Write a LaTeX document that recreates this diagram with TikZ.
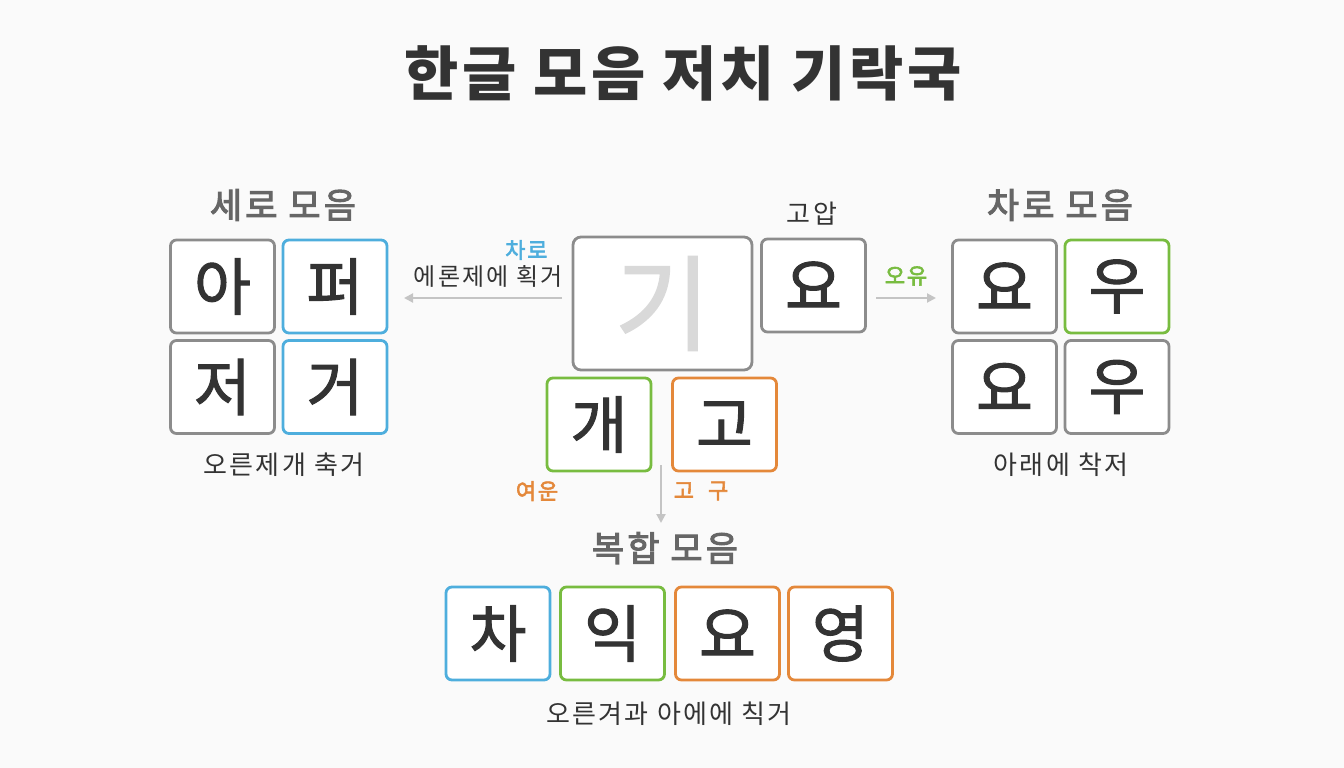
\documentclass[tikz,border=0pt]{standalone}
\usepackage{fontspec}
\setmainfont{Noto Sans CJK KR}
\newfontfamily\krsp[LetterSpace=9]{Noto Sans CJK KR}
\newfontfamily\krmed[FakeBold=1.6]{Noto Sans CJK KR}
\newfontfamily\krhead[FakeBold=3,LetterSpace=9]{Noto Sans CJK KR}
\newfontfamily\krlab[FakeBold=2.6,LetterSpace=8]{Noto Sans CJK KR}
\newfontfamily\krti[LetterSpace=6]{Noto Sans CJK KR}
\usetikzlibrary{arrows.meta}
\definecolor{txt}{HTML}{333333}
\definecolor{head}{HTML}{666666}
\definecolor{bgray}{HTML}{8C8C8C}
\definecolor{bblue}{HTML}{4EAEDD}
\definecolor{bgreen}{HTML}{78BC40}
\definecolor{borange}{HTML}{E4883A}
\definecolor{arr}{HTML}{C4C4C4}
\definecolor{ghost}{HTML}{D9D9D9}
\definecolor{bg}{HTML}{FAFAFA}
\tikzset{
  cell/.style={draw=#1, line width=2.8pt, rounded corners=6pt, fill=white,
    minimum width=104pt, minimum height=93pt, inner sep=0pt,
    font=\krmed\fontsize{62}{64}\selectfont, text=txt},
  heading/.style={font=\krhead\fontsize{35}{37}\selectfont, text=head},
  caption/.style={font=\krsp\fontsize{26}{28}\selectfont, text=txt},
  smalllab/.style={font=\krlab\fontsize{22}{24}\selectfont, text=#1},
  conn/.style={draw=arr, line width=2pt, -{Triangle[length=9pt,width=9pt]}}
}
\begin{document}
\begin{tikzpicture}[x=1pt,y=-1pt]
\fill[bg] (0,0) rectangle (1344,768);
\useasboundingbox (0,0) rectangle (1344,768);
% title
\node[font=\krti\bfseries\fontsize{59}{62}\selectfont, text=txt] (title) at (683,73) {한글 모음 저치 기락국};
% left group
\node[heading] (lh) at (283,205) {세로 모음};
\node[cell=bgray] (l1) at (222.5,286.5) {아};
\node[cell=bblue] (l2) at (335,286.5) {퍼};
\node[cell=bgray] (l3) at (222.5,387) {저};
\node[cell=bblue] (l4) at (335,387) {거};
\node[caption] (lc) at (284,465) {오른제개 축거};
% center
\node[draw=bgray, line width=2.8pt, rounded corners=8pt, fill=white,
  minimum width=179pt, minimum height=133pt, inner sep=0pt,
  font=\krmed\fontsize{104}{104}\selectfont, text=ghost] (gi) at (662.5,303.5) {기};
\node[cell=bgray] (yo) at (813.5,285.5) {요};
\node[font=\krsp\fontsize{26}{28}\selectfont, text=txt] (goap) at (812,214) {고압};
\node[cell=bgreen] (gae) at (599,424.5) {개};
\node[cell=borange] (go) at (724.5,424.5) {고};
% left arrow
\coordinate (la1) at (562,298);
\coordinate (la2) at (404,298);
\draw[conn] (la1) -- (la2);
\node[smalllab=bblue, anchor=east] (charo) at (551,250) {차로};
\node[font=\krsp\fontsize{24}{26}\selectfont, text=txt, anchor=east] (erj) at (566,276) {에론제에 획거};
% right arrow
\coordinate (ra1) at (876,298);
\coordinate (ra2) at (936,298);
\draw[conn] (ra1) -- (ra2);
\node[smalllab=bgreen] (oyu) at (906,276) {오유};
% down arrow
\coordinate (da1) at (661,465);
\coordinate (da2) at (661,523);
\draw[conn] (da1) -- (da2);
\node[smalllab=borange] (yeoun) at (537,491) {여운};
\node[smalllab=borange] (gogu) at (701,491) {고\hspace{14pt}구};
% right group
\node[heading] (rh) at (1060,205) {차로 모음};
\node[cell=bgray] (r1) at (1004.5,286.5) {요};
\node[cell=bgreen] (r2) at (1117,286.5) {우};
\node[cell=bgray] (r3) at (1004.5,387) {요};
\node[cell=bgray] (r4) at (1117,387) {우};
\node[caption] (rc) at (1061,465) {아래에 착저};
% bottom group
\node[heading] (bh) at (665,548) {복합 모음};
\node[cell=bblue] (b1) at (498,633.5) {차};
\node[cell=bgreen] (b2) at (612.5,633.5) {익};
\node[cell=borange] (b3) at (727.5,633.5) {요};
\node[cell=borange] (b4) at (840.5,633.5) {영};
\node[caption] (bc) at (669,714) {오른겨과 아에에 칙거};
\end{tikzpicture}
\end{document}
